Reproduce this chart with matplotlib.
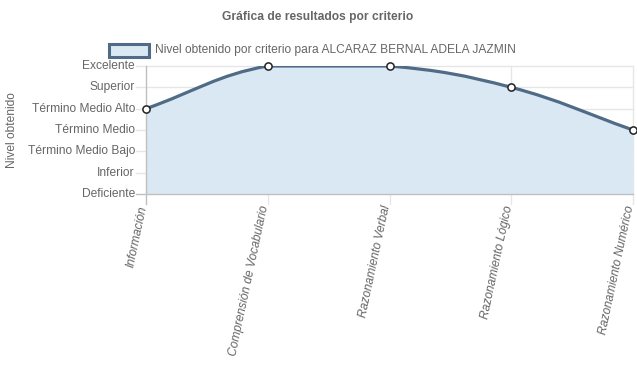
import matplotlib
matplotlib.use("Agg")
import matplotlib.pyplot as plt
from matplotlib.path import Path
from matplotlib.patches import PathPatch, Rectangle
import numpy as np

plt.rcParams['font.family'] = ['Liberation Sans', 'DejaVu Sans']

title = "Gráfica de resultados por criterio"
legend_label = "Nivel obtenido por criterio para ALCARAZ BERNAL ADELA JAZMIN"
y_axis_title = "Nivel obtenido"
categories = ["Información", "Comprensión de Vocabulario", "Razonamiento Verbal",
              "Razonamiento Lógico", "Razonamiento Numérico"]
level_labels = ["Deficiente", "Inferior", "Término Medio Bajo", "Término Medio",
                "Término Medio Alto", "Superior", "Excelente"]
values = [4, 6, 6, 5, 3]

W, H, DPI = 637, 389, 100
fig = plt.figure(figsize=(W / DPI, H / DPI), dpi=DPI)
L, R, T, B = 146, 633, 66, 194
ax = fig.add_axes([L / W, 1 - B / H, (R - L) / W, (B - T) / H])

n = len(categories)
x = np.arange(n, dtype=float)
y = np.array(values, dtype=float)
ymax = len(level_labels) - 1
ax.set_xlim(0, n - 1)
ax.set_ylim(0, ymax)

# Chart.js style bezier (tension 0.4), computed in pixel space
sx = (R - L) / (n - 1)
sy = (B - T) / ymax
px = x * sx
py = y * sy
t = 0.4
cps = []
for i in range(n):
    prev = (px[max(i - 1, 0)], py[max(i - 1, 0)])
    cur = (px[i], py[i])
    nxt = (px[min(i + 1, n - 1)], py[min(i + 1, n - 1)])
    d01 = np.hypot(cur[0] - prev[0], cur[1] - prev[1])
    d12 = np.hypot(nxt[0] - cur[0], nxt[1] - cur[1])
    tot = d01 + d12
    s01 = d01 / tot if tot else 0
    s12 = d12 / tot if tot else 0
    fa, fb = t * s01, t * s12
    cp_prev = (cur[0] - fa * (nxt[0] - prev[0]), cur[1] - fa * (nxt[1] - prev[1]))
    cp_next = (cur[0] + fb * (nxt[0] - prev[0]), cur[1] + fb * (nxt[1] - prev[1]))
    def cap(p):
        return (min(max(p[0], 0), px[-1]), min(max(p[1], 0), ymax * sy))
    cps.append((cap(cp_prev), cap(cp_next)))

verts = [(x[0], y[0])]
codes = [Path.MOVETO]
for i in range(n - 1):
    c1 = cps[i][1]
    c2 = cps[i + 1][0]
    verts += [(c1[0] / sx, c1[1] / sy), (c2[0] / sx, c2[1] / sy), (x[i + 1], y[i + 1])]
    codes += [Path.CURVE4] * 3

line_color = "#4f6b86"
fill_color = "#dae8f4"

fill_verts = verts + [(x[-1], 0), (x[0], 0), (x[0], y[0])]
fill_codes = codes + [Path.LINETO, Path.LINETO, Path.CLOSEPOLY]
ax.add_patch(PathPatch(Path(fill_verts, fill_codes), facecolor=fill_color,
                       edgecolor='none', zorder=1))
ax.add_patch(PathPatch(Path(verts, codes), facecolor='none', edgecolor=line_color,
                       lw=2.3, zorder=3, capstyle='round', joinstyle='round'))
ax.plot(x, y, linestyle='none', marker='o', ms=5.2, mfc='white', mec='#222222',
        mew=1.1, zorder=4, clip_on=False)

# grid
grid_c = "#e6e6e6"
zero_c = "#bfbfbf"
for yi in range(ymax + 1):
    ax.plot([-10 / sx, n - 1], [yi, yi], color=zero_c if yi == 0 else grid_c,
            lw=1, zorder=2 if yi == 0 else 0.5, clip_on=False)
for xi in range(n):
    ax.plot([xi, xi], [-10 / sy, ymax], color=zero_c if xi == 0 else grid_c,
            lw=1, zorder=2 if xi == 0 else 0.5, clip_on=False)

for s in ax.spines.values():
    s.set_visible(False)
ax.set_xticks([])
ax.set_yticks([])

fs = 8.64
tc = "#666666"
for yi, lab in enumerate(level_labels):
    ax.text(-10 / sx - 1 / sx, yi, lab, ha='right', va='center', fontsize=fs, color=tc)
for xi, lab in enumerate(categories):
    ax.text(xi - 2.5 / sx, -12 / sy, lab, ha='right', va='center', rotation=78,
            rotation_mode='anchor', fontsize=fs, color=tc, style='italic')

fig.text(12 / W, 1 - 130 / H, y_axis_title, rotation=90, ha='center', va='center',
         fontsize=fs, color=tc)
fig.text(318 / W, 1 - 17 / H, title, ha='center', va='center', fontsize=fs,
         color=tc, fontweight='bold')

# legend
fig.patches.append(Rectangle((109 / W, 1 - 57 / H), 40 / W, 13 / H, transform=fig.transFigure,
                             facecolor=fill_color, edgecolor=line_color, lw=2.2))
fig.text(155 / W, 1 - 50 / H, legend_label, ha='left', va='center', fontsize=fs, color=tc)

fig.savefig("out.png", dpi=DPI)
